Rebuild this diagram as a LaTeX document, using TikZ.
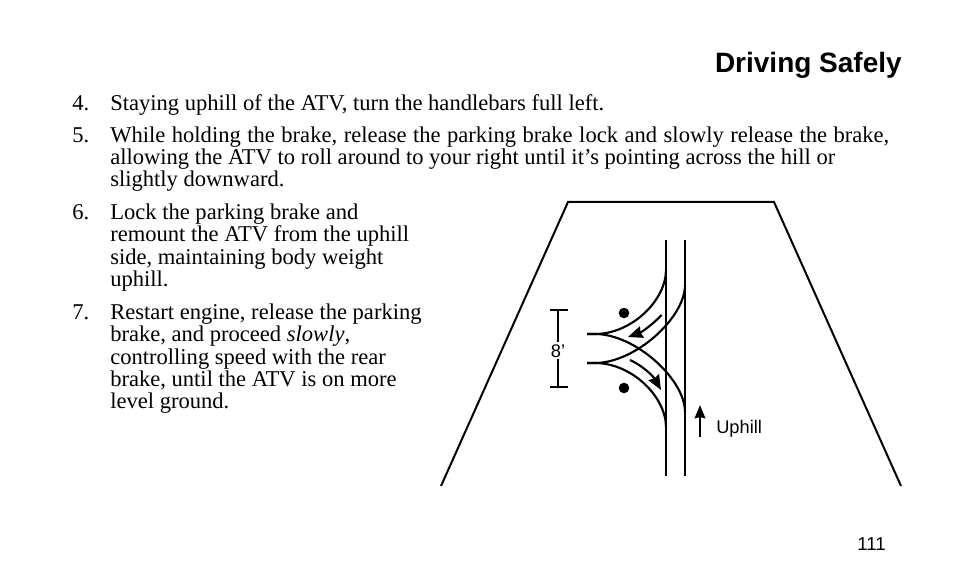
\documentclass[tikz,border=0pt]{standalone}
\usepackage{fontspec}
\setmainfont{Liberation Serif}
\newfontfamily\hv{Liberation Sans}
\usetikzlibrary{arrows.meta}
\tikzset{
 bodytext/.style={anchor=base west,inner sep=0pt,font=\fontsize{16.92pt}{18pt}\selectfont},
 road/.style={line width=1.5pt,line join=miter},
 curb/.style={line width=1.6pt},
 drive/.style={line width=1.6pt,-{Stealth[length=11pt,width=9pt,inset=1pt]}},
 sans/.style={inner sep=0pt,font=\hv\fontsize{13.7pt}{15pt}\selectfont}
}
\begin{document}
\begin{tikzpicture}[x=0.75pt,y=-0.75pt]
\useasboundingbox (0,0) rectangle (954,588);
\node[anchor=base east,inner sep=0pt,font=\hv\bfseries\fontsize{21pt}{24pt}\selectfont] (title) at (902,72.5) {Driving Safely};
\foreach \nm/\yy/\nn/\tx in {
 a/110.7/4./{Staying uphill of the ATV, turn the handlebars full left.},
 b/142.7/5./{\makebox[584.25pt][s]{While holding the brake, release the parking brake lock and slowly release the brake,}},
 c/219.5/6./{Lock the parking brake and},
 d/319.5/7./{Restart engine, release the parking}}{
  \node[bodytext] (n\nm) at (72,\yy) {\nn};
  \node[bodytext] (t\nm) at (110,\yy) {\tx};
}
\foreach \nm/\yy/\tx in {
 b2/164.3/{allowing the ATV to roll around to your right until it’s pointing across the hill or},
 b3/186.7/{slightly downward.},
 c2/241.9/{remount the ATV from the uphill},
 c3/264.2/{side, maintaining body weight},
 c4/286.6/{uphill.},
 d2/341.8/{brake, and proceed \textit{slowly},},
 d3/364.2/{controlling speed with the rear},
 d4/386.5/{brake, until the ATV is on more},
 d5/408.9/{level ground.}}{
  \node[bodytext] (t\nm) at (110,\yy) {\tx};
}
% road
\draw[road] (441,486) -- (568,202) -- (774,202) -- (901,486);
\draw[curb] (666,240) -- (666,476);
\draw[curb] (685,240) -- (685,476);
% flares
\draw[curb] (666,270) .. controls (666,300) and (632,334) .. (595,334) -- (587,334);
\draw[curb] (685,285) .. controls (685,318) and (635,363) .. (595,363) -- (587,363);
\draw[curb] (587,334) -- (595,334) .. controls (635,334) and (685,379) .. (685,412);
\draw[curb] (587,363) -- (595,363) .. controls (632,363) and (666,397) .. (666,427);
% dots
\fill (624,313) circle (5.3);
\fill (624,388) circle (5.3);
% turn arrows
\draw[drive] (661.7,315) .. controls (653,324) and (642,332) .. (628,337);
\draw[drive] (630,360) .. controls (643,366) and (653,376) .. (661,390);
% dimension
\node[sans] (eight) at (558,351) {8’};
\coordinate (dimT) at (558,310);
\coordinate (dimB) at (558,387);
\draw[line width=1.4pt] (550,310) -- (568,310);
\draw[line width=1.4pt] (550,387) -- (568,387);
\draw[line width=1.4pt] (dimT) -- (558,342);
\draw[line width=1.4pt] (558,359) -- (dimB);
% uphill
\node[sans,anchor=base west] (up) at (716,433.5) {Uphill};
\draw[line width=1.5pt,-{Stealth[length=10pt,width=8pt,inset=1pt]}] (700,437) -- (700,405);
\node[anchor=base east,inner sep=0pt,font=\hv\fontsize{14pt}{16pt}\selectfont] (pg) at (886,550) {111};
\end{tikzpicture}
\end{document}
